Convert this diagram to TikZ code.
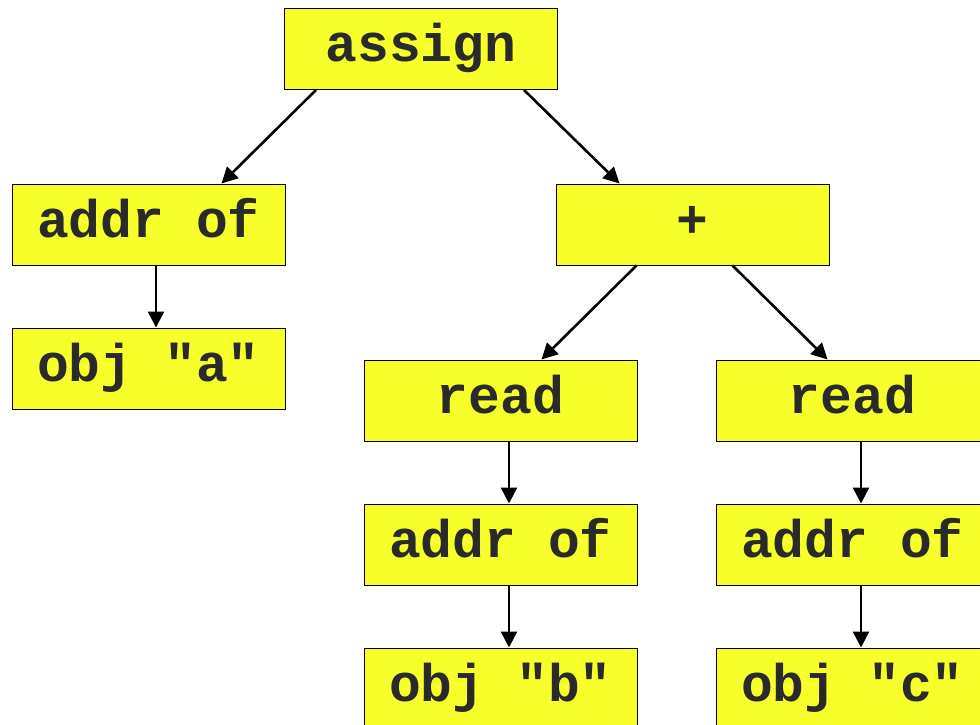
\documentclass[tikz,border=0pt]{standalone}
\usepackage{fontspec}
\setmonofont{Liberation Mono}
\usetikzlibrary{arrows.meta,calc}
\definecolor{boxfill}{RGB}{246,255,42}
\definecolor{boxtext}{RGB}{42,42,42}
\begin{document}
\begin{tikzpicture}[x=1pt,y=-1pt,
  treebox/.style={draw=black,line width=1pt,fill=boxfill,rectangle,
    minimum width=273pt,minimum height=81pt,inner sep=0pt,
    text height=35pt,text depth=10pt,text=boxtext,
    font=\fontsize{53}{60}\selectfont\ttfamily\bfseries},
  link/.style={line width=2.6pt,-{Triangle[length=16pt,width=16pt]}}]
\useasboundingbox (0,0) rectangle (980,725);
\clip (0,0) rectangle (980,725);
\fill[white] (0,0) rectangle (980,725);

% tree nodes
\node[treebox] (assign) at (421,49)     {assign};
\node[treebox] (addrA)  at (148.5,224.5) {addr of};
\node[treebox] (objA)   at (148.5,368.5) {obj "a"};
\node[treebox] (plus)   at (692.5,224.5) {+};
\node[treebox] (readB)  at (500.5,400.5) {read};
\node[treebox] (readC)  at (852.5,400.5) {read};
\node[treebox] (addrB)  at (500.5,544.5) {addr of};
\node[treebox] (addrC)  at (852.5,544.5) {addr of};
\node[treebox] (objB)   at (500.5,688.5) {obj "b"};
\node[treebox] (objC)   at (852.5,688.5) {obj "c"};

% connectors
\draw[link] ($(assign.south west)+(32,0)$)  -- ($(addrA.north west)+(210,0)$);
\draw[link] ($(assign.south west)+(240,0)$) -- ($(plus.north west)+(64,0)$);
\draw[link] ($(addrA.south)+(7.5,0)$) -- ($(objA.north)+(7.5,0)$);
\draw[link] ($(plus.south west)+(81,0)$)  -- ($(readB.north west)+(178,0)$);
\draw[link] ($(plus.south west)+(177,0)$) -- ($(readC.north west)+(112,0)$);
\draw[link] ($(readB.south)+(8.5,0)$) -- ($(addrB.north)+(8.5,0)$);
\draw[link] ($(addrB.south)+(8.5,0)$) -- ($(objB.north)+(8.5,0)$);
\draw[link] ($(readC.south)+(8.5,0)$) -- ($(addrC.north)+(8.5,0)$);
\draw[link] ($(addrC.south)+(8.5,0)$) -- ($(objC.north)+(8.5,0)$);
\end{tikzpicture}
\end{document}
